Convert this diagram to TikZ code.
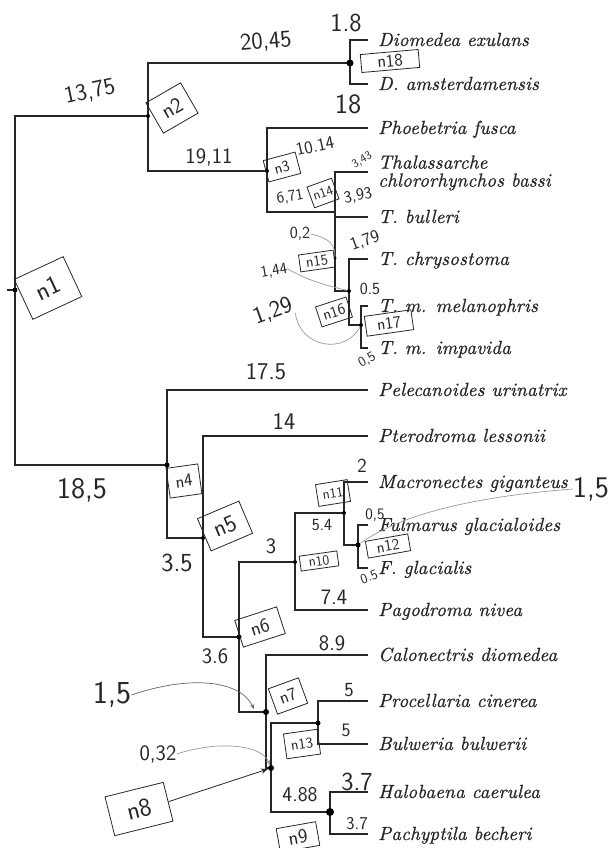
\documentclass[tikz,border=0pt]{standalone}
\usepackage{fontspec}
\newfontfamily\tipfont[FakeBold=0.8, LetterSpace=1]{lmroman10-italic.otf}
\usetikzlibrary{arrows.meta}
\newcommand{\hsz}[1]{\fontsize{#1}{#1}\selectfont}
\begin{document}
\begin{tikzpicture}[x=1pt,y=-1pt,
  tree/.style={line width=1.1pt, draw=black!85},
  tip/.style={anchor=base west, inner sep=0, font=\tipfont\fontsize{19}{18}\selectfont, text=black!85},
  hw/.style={inner sep=0, font=\sffamily, text=black!85},
  nbox/.style={draw=black!85, line width=0.8pt, inner sep=0, font=\sffamily, text=black!85},
  dot/.style={circle, fill=black, inner sep=0, minimum size=#1},
  dot/.default=5pt,
  gcurve/.style={draw=black!40, line width=0.7pt},
]
\useasboundingbox (0,0) rectangle (614,848);
% junctions
\coordinate (r0) at (7,290);
\coordinate (n1) at (15,290);
\coordinate (n2) at (148,116);
\coordinate (n18) at (350,63);
\coordinate (n3) at (267,171);
\coordinate (n14) at (335,212);
\coordinate (n15) at (335,258);
\coordinate (n16) at (349,291);
\coordinate (n17) at (361,325);
\coordinate (n4) at (167,465);
\coordinate (n5) at (203,538);
\coordinate (n6) at (239,637);
\coordinate (n10) at (295,562);
\coordinate (n11) at (344,513);
\coordinate (n12) at (358,545);
\coordinate (n7) at (266,712);
\coordinate (n8) at (271,768);
\coordinate (n13) at (318,723);
\coordinate (n9) at (330,812);
% tips
\coordinate (t1) at (368,40);
\coordinate (t2) at (368,84);
\coordinate (t3) at (368,128);
\coordinate (t4) at (368,172);
\coordinate (t5) at (368,217);
\coordinate (t6) at (368,259);
\coordinate (t7) at (368,306);
\coordinate (t8) at (368,348);
\coordinate (t9) at (368,390);
\coordinate (t10) at (368,436);
\coordinate (t11) at (368,482);
\coordinate (t12) at (368,525);
\coordinate (t13) at (368,568);
\coordinate (t14) at (368,610);
\coordinate (t15) at (368,655);
\coordinate (t16) at (368,701);
\coordinate (t17) at (368,744);
\coordinate (t18) at (368,792);
\coordinate (t19) at (368,834);
% tree
\draw[tree] (r0) -- (n1);
\draw[tree] (n2) -| (n1) |- (n4);
\draw[tree] (n18) -| (n2) |- (n3);
\draw[tree] (t1) -| (n18) |- (t2);
\draw[tree] (t3) -| (n3) |- (n14);
\draw[tree] (t4) -| (n14) |- (n16);
\draw[tree] (t5) -| (n15);
\draw[tree] (t6) -| (n16) |- (n17);
\draw[tree] (t7) -| (n17) |- (t8);
\draw[tree] (t9) -| (n4) |- (n5);
\draw[tree] (t10) -| (n5) |- (n6);
\draw[tree] (n10) -| (n6) |- (n7);
\draw[tree] (n11) -| (n10) |- (t14);
\draw[tree] (t11) -| (n11) |- (n12);
\draw[tree] (t12) -| (n12) |- (t13);
\draw[tree] (t15) -| (n7) |- (n8);
\draw[tree] (n13) -| (n8) |- (n9);
\draw[tree] (t16) -| (n13) |- (t17);
\draw[tree] (t18) -| (n9) |- (t19);
% dots
\node[dot] (d1) at (n1) {};
\node[dot=4pt] (d2) at (n2) {};
\node[dot=4pt] (d3) at (n3) {};
\node[dot=7pt] (d18) at (n18) {};
\node[dot=3pt] (d15) at (n15) {};
\node[dot=4pt] (d16) at (n16) {};
\node[dot=4pt] (d17) at (n17) {};
\node[dot] (d4) at (n4) {};
\node[dot=4pt] (d5) at (n5) {};
\node[dot] (d6) at (n6) {};
\node[dot=4pt] (d10) at (n10) {};
\node[dot=4pt] (d11) at (n11) {};
\node[dot] (d12) at (n12) {};
\node[dot=6pt] (d7) at (n7) {};
\node[dot=6pt] (d8) at (n8) {};
\node[dot=5pt] (d13) at (n13) {};
\node[dot=8pt] (d9) at (n9) {};
% tip labels
\node[tip] (L1) at (378,46) {Diomedea exulans};
\node[tip] (L2) at (378,90) {D. amsterdamensis};
\node[tip] (L3) at (378,134) {Phoebetria fusca};
\node[tip, anchor=west, align=left] (L4) at (378,173) {Thalassarche\\chlororhynchos bassi};
\node[tip] (L5) at (378,223) {T. bulleri};
\node[tip] (L6) at (378,265) {T. chrysostoma};
\node[tip] (L7) at (378,312) {T. m. melanophris};
\node[tip] (L8) at (378,354) {T. m. impavida};
\node[tip] (L9) at (378,396) {Pelecanoides urinatrix};
\node[tip] (L10) at (378,442) {Pterodroma lessonii};
\node[tip] (L11) at (378,488) {Macronectes giganteus};
\node[tip] (L12) at (378,531) {Fulmarus glacialoides};
\node[tip] (L13) at (378,574) {F. glacialis};
\node[tip] (L14) at (378,616) {Pagodroma nivea};
\node[tip] (L15) at (378,661) {Calonectris diomedea};
\node[tip] (L16) at (378,707) {Procellaria cinerea};
\node[tip] (L17) at (378,750) {Bulweria bulwerii};
\node[tip] (L18) at (378,798) {Halobaena caerulea};
\node[tip] (L19) at (378,840) {Pachyptila becheri};
% boxed node names
\node[nbox, minimum width=54, minimum height=44, rotate=25] (b1) at (48,288) {\hsz{26}n1};
\node[nbox, minimum width=40, minimum height=35, rotate=30] (b2) at (172,108) {\hsz{22}n2};
\node[nbox, minimum width=58, minimum height=18, rotate=5] (b18) at (390,61) {\hsz{18}n18};
\node[nbox, minimum width=33, minimum height=22, rotate=15] (b3) at (282,167) {\hsz{16}n3};
\node[nbox, minimum width=26, minimum height=22, rotate=20] (b14) at (323,193) {\hsz{14}n14};
\node[nbox, minimum width=35, minimum height=17, rotate=8] (b15) at (317,261) {\hsz{15}n15};
\node[nbox, minimum width=32, minimum height=21, rotate=18] (b16) at (334,312) {\hsz{16}n16};
\node[nbox, minimum width=47, minimum height=20, rotate=8] (b17) at (389,323) {\hsz{17}n17};
\node[nbox, minimum width=32, minimum height=30, rotate=8] (b4) at (184,481) {\hsz{18}n4};
\node[nbox, minimum width=45, minimum height=35, rotate=23] (b5) at (225,526) {\hsz{24}n5};
\node[nbox, minimum width=38, minimum height=15, rotate=8] (b10) at (319,561) {\hsz{14}n10};
\node[nbox, minimum width=32, minimum height=22, rotate=9] (b11) at (333,493) {\hsz{14}n11};
\node[nbox, minimum width=43, minimum height=17, rotate=10] (b12) at (388,546) {\hsz{16}n12};
\node[nbox, minimum width=44, minimum height=28, rotate=18] (b6) at (260,627) {\hsz{20}n6};
\node[nbox, minimum width=32, minimum height=27, rotate=20] (b7) at (288,696) {\hsz{18}n7};
\node[nbox, minimum width=34, minimum height=25, rotate=8] (b13) at (302,744) {\hsz{15}n13};
\node[nbox, minimum width=60, minimum height=40, rotate=14] (b8) at (139,809) {\hsz{26}n8};
\node[nbox, minimum width=40, minimum height=24, rotate=10] (b9) at (298,837) {\hsz{20}n9};
% handwritten branch lengths
\node[hw, rotate=5] (a1) at (266,42) {\hsz{24}20,45};
\node[hw, rotate=12] (a2) at (90,92) {\hsz{24}13,75};
\node[hw] (a3) at (209,157) {\hsz{22}19,11};
\node[hw, rotate=12] (a4) at (315,146) {\hsz{18}10.14};
\node[hw] (a5) at (346,23) {\hsz{26}1.8};
\node[hw] (a6) at (348,104) {\hsz{28}18};
\node[hw, rotate=30] (a7) at (362,160) {\hsz{12}3,43};
\node[hw, rotate=10] (a8) at (290,197) {\hsz{16}6,71};
\node[hw, rotate=10] (a9) at (358,196) {\hsz{17}3,93};
\node[hw] (a10) at (300,234) {\hsz{17}0,2};
\node[hw, rotate=10] (a11) at (274,271) {\hsz{16}1,44};
\node[hw, rotate=20] (a12) at (365,241) {\hsz{18}1,79};
\node[hw, rotate=20] (a13) at (273,311) {\hsz{24}1,29};
\node[hw] (a14) at (370,289) {\hsz{17}0.5};
\node[hw, rotate=30] (a15) at (367,360) {\hsz{14}0,5};
\node[hw] (a16) at (266,372) {\hsz{24}17.5};
\node[hw] (a17) at (284,421) {\hsz{24}14};
\node[hw] (a18) at (82,490) {\hsz{30}18,5};
\node[hw] (a19) at (177,563) {\hsz{26}3.5};
\node[hw] (a20) at (271,546) {\hsz{22}3};
\node[hw] (a21) at (362,466) {\hsz{20}2};
\node[hw] (a22) at (322,525) {\hsz{17}5.4};
\node[hw] (a23) at (375,515) {\hsz{16}0,5};
\node[hw, rotate=20] (a24) at (369,577) {\hsz{14}0.5};
\node[hw] (a25) at (334,597) {\hsz{22}7.4};
\node[hw] (a26) at (591,489) {\hsz{30}1,5};
\node[hw] (a27) at (332,643) {\hsz{22}8.9};
\node[hw] (a28) at (215,656) {\hsz{22}3.6};
\node[hw] (a29) at (112,695) {\hsz{32}1,5};
\node[hw] (a30) at (349,690) {\hsz{20}5};
\node[hw] (a31) at (346,730) {\hsz{19}5};
\node[hw] (a32) at (158,754) {\hsz{22}0,32};
\node[hw] (a33) at (300,795) {\hsz{21}4.88};
\node[hw] (a34) at (357,782) {\hsz{26}3.7};
\node[hw] (a35) at (357,824) {\hsz{18}3.7};
% pointers
\draw[gcurve] (a26.west) .. controls (470,497) and (400,515) .. (d12);
\draw[gcurve] (a10.east) .. controls (330,238) and (335,245) .. (d15);
\draw[gcurve] (a11.east) .. controls (310,282) and (330,286) .. (d16);
\draw[gcurve] (a13.south east) .. controls (300,348) and (345,355) .. (d17);
\draw[gcurve, draw=black!60, -{Stealth[length=5pt]}] (a29.east) .. controls (190,675) and (240,680) .. (254,709);
\draw[gcurve, -{Stealth[length=5pt]}] (a32.east) .. controls (220,740) and (262,745) .. (d8);
\draw[line width=0.8pt, draw=black!85, -{Stealth[length=7pt]}] (b8.east) -- (d8);
\end{tikzpicture}
\end{document}
